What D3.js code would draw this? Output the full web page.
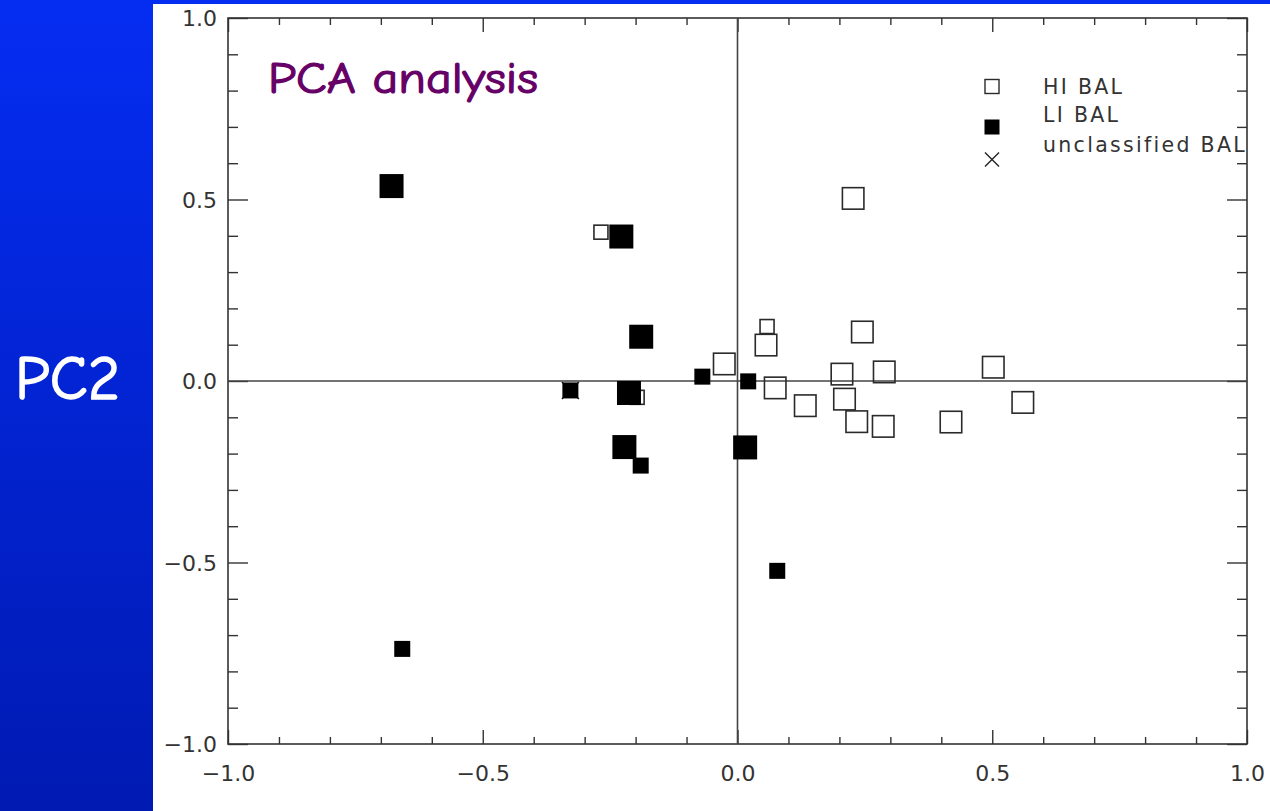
<!DOCTYPE html>
<html>
<head>
<meta charset="utf-8">
<script src="https://cdn.jsdelivr.net/npm/d3@7"></script>
<style>
  html, body { margin: 0; padding: 0; overflow: hidden; }
  svg { display: block; }
</style>
</head>
<body>
<svg id="chart" width="1270" height="811"></svg>
<script>
// PCA scores: PC1 (x) versus PC2 (y) for BAL quasars.
// symbolClass: 1 = small marker, 2 = large marker.
const hiX = [-0.268, -0.197, -0.026, 0.058, 0.056, 0.074, 0.133, 0.205, 0.210, 0.234, 0.286, 0.245, 0.288, 0.419, 0.502, 0.560, 0.227];
const hiY = [0.410, -0.045, 0.047, 0.150, 0.099, -0.019, -0.068, 0.019, -0.050, -0.112, -0.125, 0.135, 0.025, -0.113, 0.038, -0.059, 0.503];
const hiClass = [1, 1, 2, 1, 2, 2, 2, 2, 2, 2, 2, 2, 2, 2, 2, 2, 2];

const liX = [-0.679, -0.228, -0.189, -0.328, -0.213, -0.222, -0.190, -0.069, 0.021, 0.015, 0.078, -0.658];
const liY = [0.537, 0.398, 0.122, -0.026, -0.033, -0.182, -0.233, 0.012, -0.001, -0.183, -0.523, -0.738];
const liClass = [2, 2, 2, 1, 2, 2, 1, 1, 1, 2, 1, 1];

const unclX = [-0.328];
const unclY = [-0.026];

const majorTicks = [-1.0, -0.5, 0.0, 0.5, 1.0];
const minorTicks = [-0.9, -0.8, -0.7, -0.6, -0.4, -0.3, -0.2, -0.1, 0.1, 0.2, 0.3, 0.4, 0.6, 0.7, 0.8, 0.9];
const legendLabels = ["HI BAL", "LI BAL", "unclassified BAL"];
const titleText = "PCA analysis";
const yTitle = "PC2";

const hiData = hiX.map((x, i) => ({ x, y: hiY[i], c: hiClass[i] }));
const liData = liX.map((x, i) => ({ x, y: liY[i], c: liClass[i] }));
const unclData = unclX.map((x, i) => ({ x, y: unclY[i] }));

const svg = d3.select("#chart");

// Slide background: blue gradient with a white panel
const defs = svg.append("defs");
const grad = defs.append("linearGradient").attr("id", "bg").attr("x1", 0).attr("y1", 0).attr("x2", 0).attr("y2", 1);
grad.append("stop").attr("offset", "0%").attr("stop-color", "#052df2");
grad.append("stop").attr("offset", "100%").attr("stop-color", "#001ab2");
svg.append("rect").attr("width", 1270).attr("height", 811).attr("fill", "url(#bg)");
svg.append("rect").attr("x", 153).attr("y", 4).attr("width", 1117).attr("height", 807).attr("fill", "#ffffff");

const plotLeft = 228, plotRight = 1247, plotTop = 18, plotBottom = 744;
const x = d3.scaleLinear().domain([-1, 1]).range([plotLeft, plotRight]);
const y = d3.scaleLinear().domain([-1, 1]).range([plotBottom, plotTop]);
const filledSize = d3.scaleOrdinal().domain([1, 2]).range([16, 24]);
const openSize = d3.scaleOrdinal().domain([1, 2]).range([14, 21.5]);

const axisColor = "#333333";
const fmt = d3.format(".1f");
const minusFmt = v => fmt(v).replace("-", "\u2212");

function styleAxis(g) {
  g.selectAll(".domain").remove();
  g.selectAll("line").attr("stroke", axisColor).attr("stroke-width", 1.4);
  g.selectAll("text").attr("fill", "#333333").attr("font-family", "DejaVu Sans, sans-serif").attr("font-size", 22);
}

// Bottom axis: labelled major ticks plus minor ticks
svg.append("g").attr("transform", `translate(0,${plotBottom})`)
  .call(d3.axisBottom(x).tickValues(majorTicks).tickSize(-14).tickPadding(0).tickFormat(minusFmt))
  .call(styleAxis)
  .call(g => g.selectAll("text").attr("y", 37).attr("dy", 0));
svg.append("g").attr("transform", `translate(0,${plotBottom})`)
  .call(d3.axisBottom(x).tickValues(minorTicks).tickSize(-7).tickFormat(""))
  .call(styleAxis);
// Top axis: ticks only
svg.append("g").attr("transform", `translate(0,${plotTop})`)
  .call(d3.axisTop(x).tickValues(majorTicks).tickSize(-14).tickFormat(""))
  .call(styleAxis);
svg.append("g").attr("transform", `translate(0,${plotTop})`)
  .call(d3.axisTop(x).tickValues(minorTicks).tickSize(-7).tickFormat(""))
  .call(styleAxis);
// Left axis
svg.append("g").attr("transform", `translate(${plotLeft},0)`)
  .call(d3.axisLeft(y).tickValues(majorTicks).tickSize(-20).tickPadding(0).tickFormat(minusFmt))
  .call(styleAxis)
  .call(g => g.selectAll("text").attr("x", -11).attr("dy", "0.36em"));
svg.append("g").attr("transform", `translate(${plotLeft},0)`)
  .call(d3.axisLeft(y).tickValues(minorTicks).tickSize(-10).tickFormat(""))
  .call(styleAxis);
// Right axis
svg.append("g").attr("transform", `translate(${plotRight},0)`)
  .call(d3.axisRight(y).tickValues(majorTicks).tickSize(-20).tickFormat(""))
  .call(styleAxis);
svg.append("g").attr("transform", `translate(${plotRight},0)`)
  .call(d3.axisRight(y).tickValues(minorTicks).tickSize(-10).tickFormat(""))
  .call(styleAxis);

// Plot frame
svg.append("rect")
  .attr("x", x(-1)).attr("y", y(1))
  .attr("width", x(1) - x(-1)).attr("height", y(-1) - y(1))
  .attr("fill", "none").attr("stroke", axisColor).attr("stroke-width", 1.6);

// Zero lines
svg.append("line").attr("x1", x(-1)).attr("x2", x(1)).attr("y1", y(0)).attr("y2", y(0))
  .attr("stroke", "#444444").attr("stroke-width", 1.6);
svg.append("line").attr("x1", x(0)).attr("x2", x(0)).attr("y1", y(-1)).attr("y2", y(1))
  .attr("stroke", "#444444").attr("stroke-width", 1.6);

// Unclassified BAL crosses
const crossPath = h => `M${-h},${-h}L${h},${h}M${-h},${h}L${h},${-h}`;
svg.append("g").selectAll("path").data(unclData).join("path")
  .attr("transform", d => `translate(${x(d.x)},${y(d.y)})`)
  .attr("d", crossPath(8.5))
  .attr("stroke", "#222222").attr("stroke-width", 1.4).attr("fill", "none");

// HI BAL: open squares
svg.append("g").selectAll("rect").data(hiData).join("rect")
  .attr("x", d => x(d.x) - openSize(d.c) / 2)
  .attr("y", d => y(d.y) - openSize(d.c) / 2)
  .attr("width", d => openSize(d.c))
  .attr("height", d => openSize(d.c))
  .attr("fill", "none").attr("stroke", "#2a2a2a").attr("stroke-width", 1.6);

// LI BAL: filled squares
svg.append("g").selectAll("rect").data(liData).join("rect")
  .attr("x", d => x(d.x) - filledSize(d.c) / 2)
  .attr("y", d => y(d.y) - filledSize(d.c) / 2)
  .attr("width", d => filledSize(d.c))
  .attr("height", d => filledSize(d.c))
  .attr("fill", "#000000");

// Legend
const legend = svg.append("g");
const lgX = 992, textX = 1043;
const lgSymY = [86.5, 127, 159.5];
const lgTextY = [94, 122, 152];
legend.append("rect").attr("x", lgX - 7).attr("y", lgSymY[0] - 7).attr("width", 14).attr("height", 14)
  .attr("fill", "none").attr("stroke", "#2a2a2a").attr("stroke-width", 1.4);
legend.append("rect").attr("x", lgX - 7.5).attr("y", lgSymY[1] - 7.5).attr("width", 15).attr("height", 15)
  .attr("fill", "#000000");
legend.append("path").attr("transform", `translate(${lgX},${lgSymY[2]})`).attr("d", crossPath(7))
  .attr("stroke", "#222222").attr("stroke-width", 1.4).attr("fill", "none");
legend.selectAll("text").data(legendLabels).join("text")
  .attr("x", textX).attr("y", (d, i) => lgTextY[i])
  .attr("font-family", "DejaVu Sans, sans-serif").attr("font-size", 20.5)
  .attr("letter-spacing", 2.3).attr("fill", "#333333")
  .text(d => d);

// Titles
svg.append("text").attr("x", 268).attr("y", 93)
  .attr("font-family", "'Comic Sans MS', 'Comic Neue', 'DejaVu Sans', sans-serif")
  .attr("font-size", 44).attr("fill", "#660066")
  .attr("stroke", "#660066").attr("stroke-width", 1.2)
  .attr("textLength", 270).attr("lengthAdjust", "spacingAndGlyphs")
  .text(titleText);
svg.append("text").attr("x", 15).attr("y", 399)
  .attr("font-family", "'Comic Sans MS', 'Comic Neue', 'DejaVu Sans', sans-serif")
  .attr("font-size", 62).attr("fill", "#ffffff")
  .attr("stroke", "#ffffff").attr("stroke-width", 1.5)
  .attr("textLength", 105).attr("lengthAdjust", "spacingAndGlyphs")
  .text(yTitle);
</script>
</body>
</html>
